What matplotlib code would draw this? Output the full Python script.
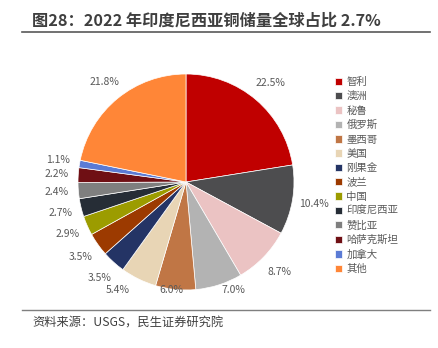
import matplotlib
matplotlib.use("Agg")
import matplotlib.pyplot as plt

plt.rcParams['font.family'] = ['Noto Sans CJK SC', 'DejaVu Sans']

categories = ["智利", "澳洲", "秘鲁", "俄罗斯", "墨西哥", "美国", "刚果金", "波兰",
              "中国", "印度尼西亚", "赞比亚", "哈萨克斯坦", "加拿大", "其他"]
values = [22.5, 10.4, 8.7, 7.0, 6.0, 5.4, 3.5, 3.5, 2.9, 2.7, 2.4, 2.2, 1.1, 21.8]
colors = ["#C00000", "#4D4D4F", "#EBC3C3", "#B3B3B3", "#C07645", "#E8D5B5", "#243465",
          "#9C3A00", "#9C9C00", "#262D36", "#7F7F7F", "#6F0F14", "#5B7BD5", "#FF8637"]
title = "图28：2022 年印度尼西亚铜储量全球占比 2.7%"
source = "资料来源：USGS，民生证券研究院"

W, H = 439, 348
fig = plt.figure(figsize=(W / 100, H / 100), dpi=100)

cx, cy, r = 186, 182, 108
ax = fig.add_axes([(cx - r) / W, (H - cy - r) / H, 2 * r / W, 2 * r / H])
wedges, texts = ax.pie(values, colors=colors, startangle=90, counterclock=False,
                       labels=[f"{v:.1f}%" for v in values], labeldistance=1.2,
                       wedgeprops=dict(linewidth=0.5, edgecolor="white"),
                       textprops=dict(fontsize=7.5, color="#595959"))
ymin = -1.0
for t in texts:
    t.set_ha("center")
    t.set_va("center")
    t.set_clip_on(False)
    x, y = t.get_position()
    if y < ymin:
        t.set_position((x * 1.2, ymin))
ax.set_xlim(-1, 1)
ax.set_ylim(-1, 1)
ax.set_aspect("equal")

leg = fig.legend(wedges, categories, loc="upper left",
                 bbox_to_anchor=(335 / W, 1 - 77 / H), frameon=False,
                 fontsize=7.5, labelcolor="#595959", handlelength=0.7,
                 handleheight=0.7, handletextpad=0.4, labelspacing=0.41,
                 borderpad=0, borderaxespad=0)

fig.text(32 / W, 1 - 21 / H, title, fontsize=11.7, fontweight="bold",
         color="#3F3F3F", ha="left", va="center")
fig.add_artist(plt.Line2D([22 / W, 430 / W], [1 - 32 / H, 1 - 32 / H],
                          color="#595959", linewidth=1.2))
fig.add_artist(plt.Line2D([22 / W, 430 / W], [1 - 310 / H, 1 - 310 / H],
                          color="#7F7F7F", linewidth=1.0))
fig.text(32 / W, 1 - 323 / H, source, fontsize=8.8, color="#404040",
         ha="left", va="center")

fig.savefig("out.png", dpi=100)
